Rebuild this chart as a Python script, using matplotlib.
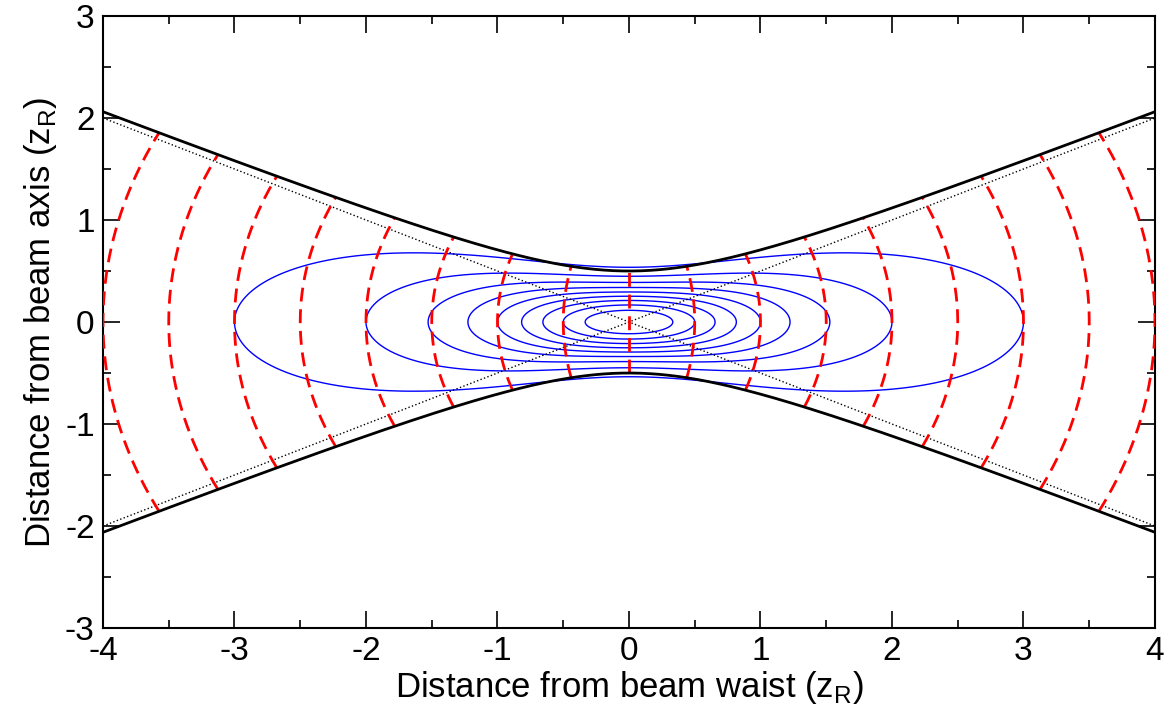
import numpy as np
import matplotlib.pyplot as plt

plt.rcParams['font.family'] = ['Liberation Sans', 'DejaVu Sans']
plt.rcParams['mathtext.fontset'] = 'custom'
plt.rcParams['mathtext.rm'] = 'Liberation Sans'
plt.rcParams['axes.unicode_minus'] = False

# beam parameters (units of Rayleigh range)
w0 = 0.5
z_fronts = [-4, -3.5, -3, -2.5, -2, -1.5, -1, -0.5, 0, 0.5, 1, 1.5, 2, 2.5, 3, 3.5, 4]
levels = [0.1, 0.2, 0.3, 0.4, 0.5, 0.6, 0.7, 0.8, 0.9]
xticks = [-4, -3, -2, -1, 0, 1, 2, 3, 4]
yticks = [-3, -2, -1, 0, 1, 2, 3]

fig = plt.figure(figsize=(11.69, 7.14), dpi=100)
ax = fig.add_axes([0.0881, 0.1204, 0.8999, 0.8572])

z = np.linspace(-4, 4, 801)
w = w0 * np.sqrt(1 + z**2)

# intensity contours
zz, yy = np.meshgrid(np.linspace(-4, 4, 801), np.linspace(-3, 3, 601))
ww = w0 * np.sqrt(1 + zz**2)
I = np.exp(-2 * yy**2 / ww**2) / (1 + zz**2)
ax.contour(zz, yy, I, levels=levels, colors='#0000ff', linewidths=1.0, zorder=2)

# asymptotes
ax.plot(z, w0 * z, ':', color='black', lw=1.0, zorder=3)
ax.plot(z, -w0 * z, ':', color='black', lw=1.0, zorder=3)

# wavefronts
for z0 in z_fronts:
    if z0 == 0:
        ax.plot([0, 0], [-w0, w0], color='red', lw=2.0, dashes=(5, 2.8), zorder=4)
        continue
    R = z0 + 1.0 / z0
    c = z0 - R
    y = np.linspace(-2.5, 2.5, 4001)
    d = R**2 - y**2
    ok = d >= 0
    y = y[ok]
    x = c + np.sign(z0) * np.sqrt(d[ok])
    m = np.abs(y) <= w0 * np.sqrt(1 + x**2)
    ax.plot(x[m], y[m], color='red', lw=2.0, dashes=(5, 2.8), zorder=4)

# envelope
ax.plot(z, w, color='black', lw=2.0, zorder=5)
ax.plot(z, -w, color='black', lw=2.0, zorder=5)

ax.set_xlim(-4, 4)
ax.set_ylim(-3, 3)
ax.set_xticks(xticks)
ax.set_yticks(yticks)
ax.set_xticks(np.arange(-3.5, 4, 1.0), minor=True)
ax.set_yticks(np.arange(-2.5, 3, 1.0), minor=True)
ax.tick_params(which='both', direction='in', top=True, right=True, width=1.2, labelsize=24)
ax.tick_params(which='major', length=12, pad=6)
ax.tick_params(which='minor', length=6)
for s in ax.spines.values():
    s.set_linewidth(1.5)

ax.set_xlabel('Distance from beam waist (z$_\\mathrm{R}$)', fontsize=25, labelpad=1)
ax.set_ylabel('Distance from beam axis (z$_\\mathrm{R}$)', fontsize=25, labelpad=4)

fig.savefig('out.png', dpi=100)
